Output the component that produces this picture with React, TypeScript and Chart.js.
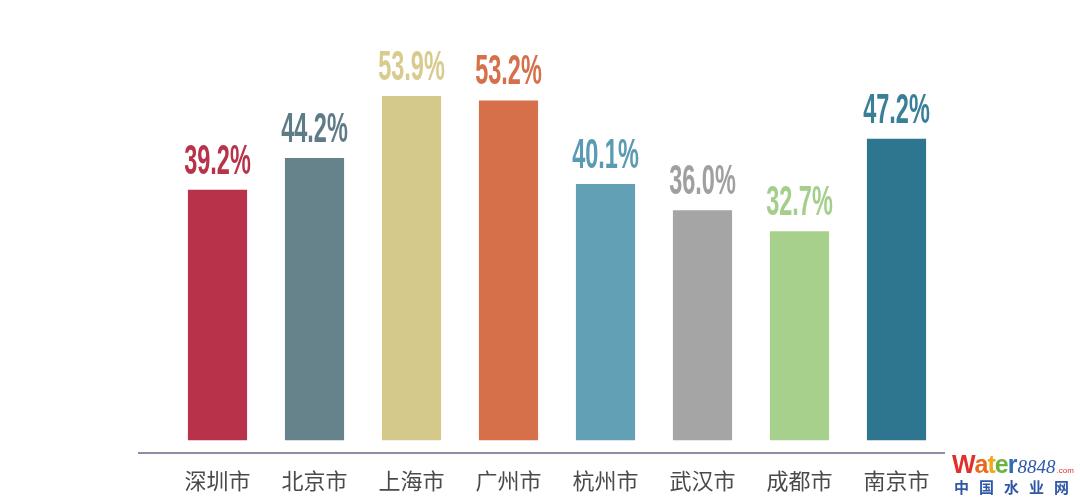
import React, { useEffect, useRef } from "react";
import { Chart, registerables } from "chart.js";

Chart.register(...registerables);

const categories = ["深圳市", "北京市", "上海市", "广州市", "杭州市", "武汉市", "成都市", "南京市"];
const values = [39.2, 44.2, 53.9, 53.2, 40.1, 36.0, 32.7, 47.2];
const barColors = ["#B8334A", "#66838C", "#D4C98A", "#D5704A", "#61A0B5", "#A5A5A5", "#A8D08D", "#2E7590"];
const labelColors = ["#B8334A", "#5E7C88", "#D8CB8E", "#D5704A", "#5A9AB2", "#A0A0A0", "#A4CF8A", "#3A7E98"];

const valueLabelPlugin = {
  id: "valueLabels",
  afterDatasetsDraw(chart: any) {
    const ctx = chart.ctx;
    const meta = chart.getDatasetMeta(0);
    const area = chart.chartArea;
    // baseline axis line
    ctx.save();
    ctx.strokeStyle = "#8A8EA6";
    ctx.lineWidth = 2;
    ctx.beginPath();
    ctx.moveTo(area.left - 31, area.bottom);
    ctx.lineTo(area.right, area.bottom);
    ctx.stroke();
    ctx.restore();

    meta.data.forEach((el: any, i: number) => {
      ctx.save();
      ctx.translate(el.x, el.y - 16);
      ctx.scale(0.56, 1);
      ctx.font = "bold 42px 'Liberation Sans'";
      ctx.textAlign = "center";
      ctx.textBaseline = "alphabetic";
      ctx.fillStyle = labelColors[i];
      ctx.fillText(values[i].toFixed(1) + "%", 0, 0);
      ctx.restore();
    });

    // watermark
    const w = chart.width;
    const h = chart.height;
    ctx.save();
    ctx.textBaseline = "alphabetic";
    ctx.textAlign = "left";
    const letters = [
      { t: "W", c: "#E0302A" },
      { t: "a", c: "#E86A1E" },
      { t: "t", c: "#F0A81C" },
      { t: "e", c: "#6DB33F" },
      { t: "r", c: "#2F6DB5" },
    ];
    let x = w - 128;
    const by = h - 28;
    ctx.font = "bold 25px 'Liberation Sans'";
    letters.forEach((l) => {
      ctx.fillStyle = l.c;
      ctx.fillText(l.t, x, by);
      x += ctx.measureText(l.t).width - 1;
    });
    ctx.font = "italic 19px 'Liberation Serif'";
    ctx.fillStyle = "#2F58A8";
    ctx.fillText("8848", x + 1, by);
    x += ctx.measureText("8848").width + 2;
    ctx.font = "8px 'Liberation Sans'";
    ctx.fillStyle = "#E0302A";
    ctx.fillText(".com", x, by);
    ctx.font = "bold 15px 'Noto Sans CJK SC'";
    ctx.fillStyle = "#2F58A8";
    const cn = ["中", "国", "水", "业", "网"];
    cn.forEach((c, i) => {
      ctx.fillText(c, w - 126 + i * 25, h - 8);
    });
    ctx.restore();
  },
};

export default function App() {
  const ref = useRef<HTMLCanvasElement>(null);
  useEffect(() => {
    if (!ref.current) return;
    const chart = new Chart(ref.current, {
      type: "bar",
      data: {
        labels: categories,
        datasets: [
          {
            data: values,
            backgroundColor: barColors,
            barPercentage: 0.61,
            categoryPercentage: 1.0,
          },
        ],
      },
      options: {
        animation: false,
        responsive: false,
        layout: { padding: { left: 169, right: 135, top: 57, bottom: 0 } },
        plugins: { legend: { display: false }, tooltip: { enabled: false } },
        scales: {
          x: {
            grid: { display: false, drawTicks: false },
            border: { display: false },
            afterFit: (scale: any) => {
              scale.height = 48;
            },
            ticks: {
              color: "#4A4A4A",
              padding: 14,
              font: { family: "'Noto Sans CJK SC'", size: 22 },
            },
          },
          y: { display: false, min: -2, max: 60 },
        },
      },
      plugins: [valueLabelPlugin],
    });
    return () => chart.destroy();
  }, []);
  return (
    <div style={{ position: "fixed", left: 0, top: 0, width: 1080, height: 501, background: "#fff" }}>
      <canvas ref={ref} width={1080} height={501} style={{ display: "block" }} />
    </div>
  );
}
